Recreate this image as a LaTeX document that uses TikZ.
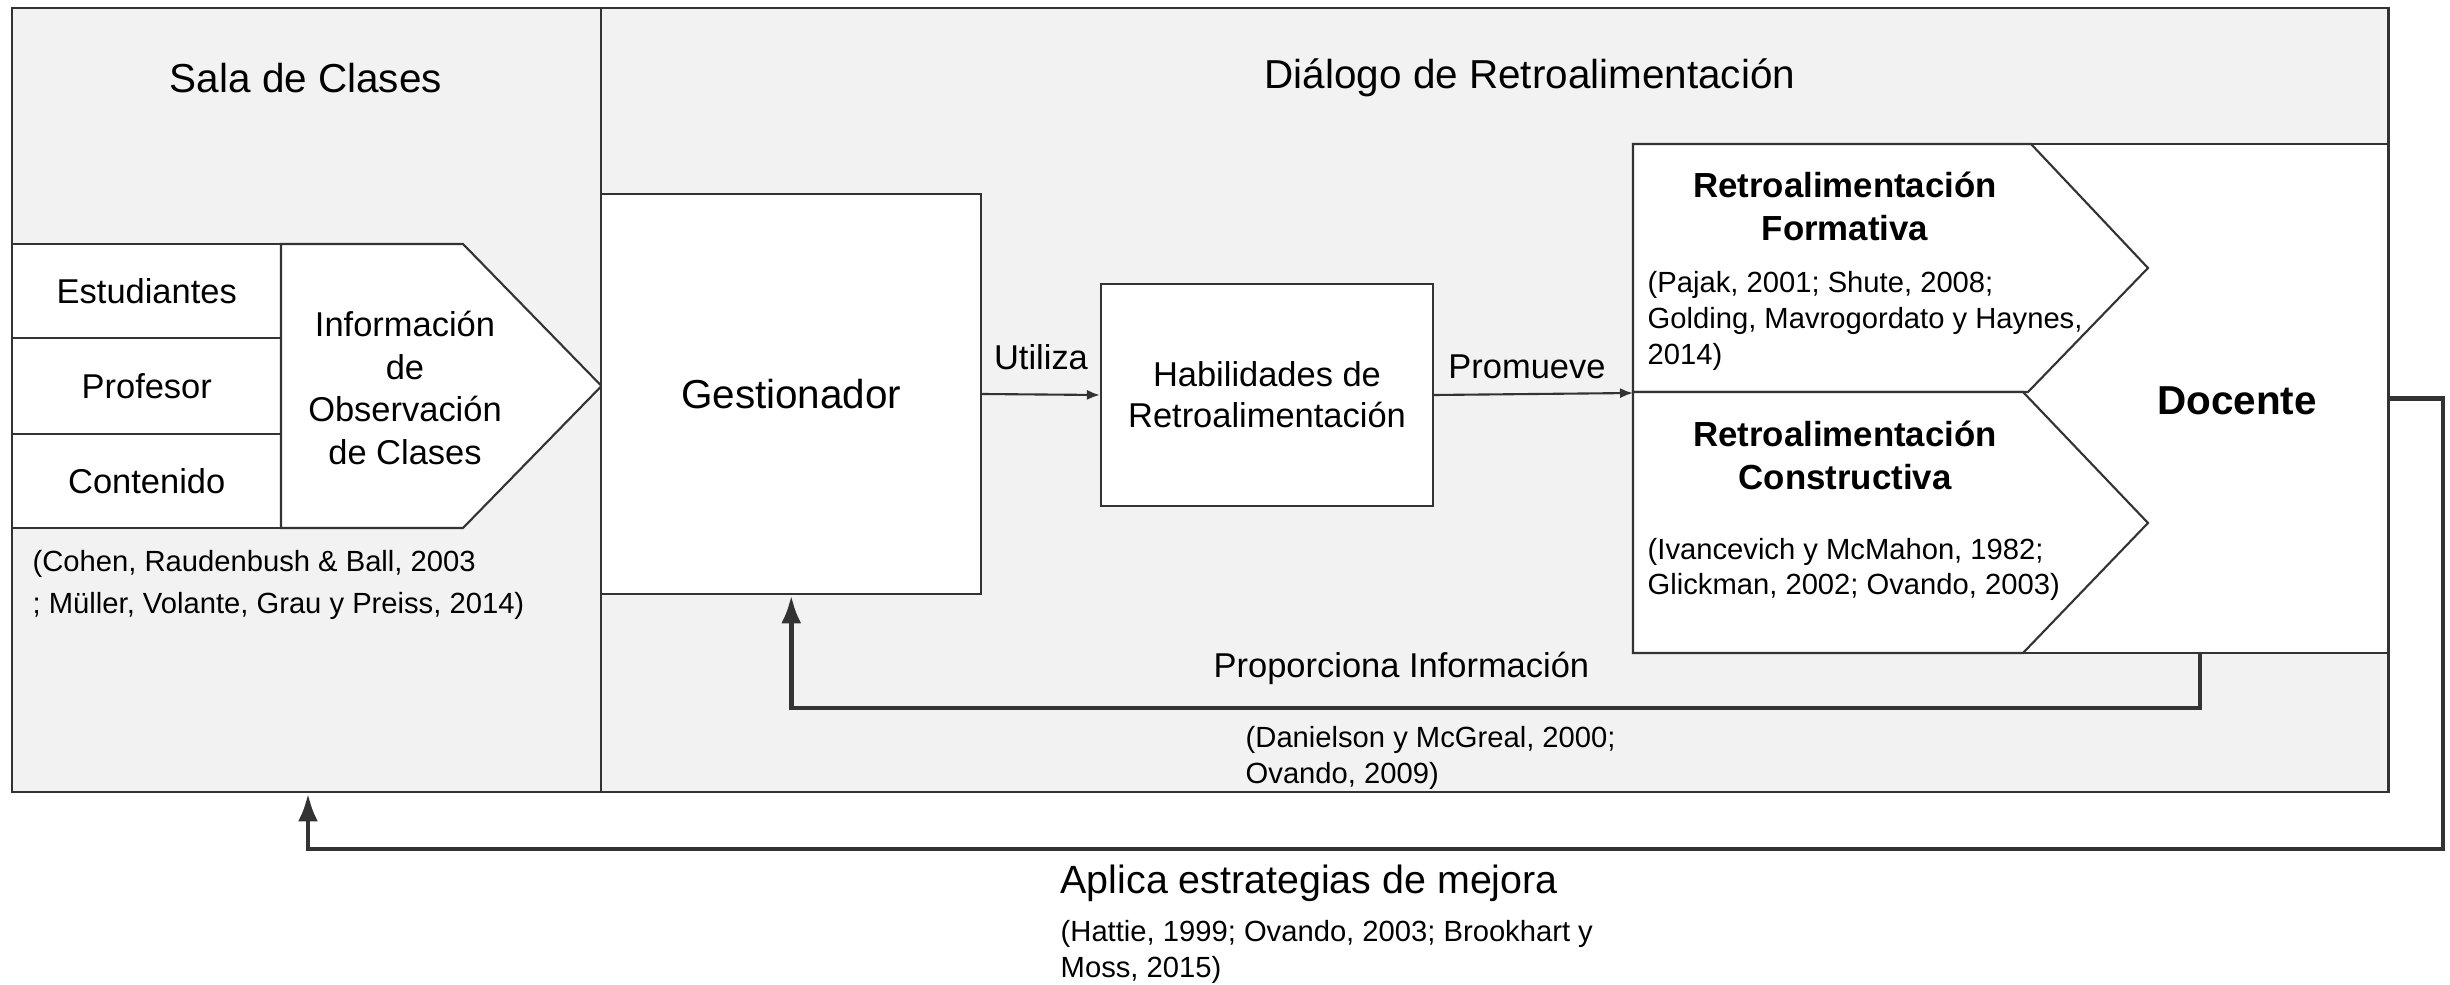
\documentclass[tikz,border=0pt]{standalone}
\usepackage{fontspec}
\setmainfont{Liberation Sans}
\usepackage{tikz}
\usetikzlibrary{arrows.meta}
\definecolor{fondo}{HTML}{F2F2F2}
\definecolor{borde}{HTML}{333333}

\begin{document}
\begin{tikzpicture}[
  x=0.01cm, y=-0.01cm,
  panel/.style={draw=borde, fill=fondo, line width=0.6pt, inner sep=0pt},
  caja/.style={draw=borde, fill=white, line width=0.6pt, inner sep=0pt},
  texto/.style={font=\fontsize{9.8}{12.1}\selectfont, align=center, inner sep=0pt},
  grande/.style={font=\fontsize{11.5}{14}\selectfont, inner sep=0pt},
  negrita/.style={font=\fontsize{9.9}{12.2}\selectfont\bfseries, align=center, inner sep=0pt},
  cita/.style={font=\fontsize{8.3}{10.2}\selectfont, align=left, anchor=west, inner sep=0pt},
  flecha/.style={draw=borde, line width=0.6pt, -{Latex[length=3.7pt,width=2.9pt]}},
  retorno/.style={draw=borde, line width=1.4pt, -{Latex[length=8pt,width=5.7pt]}}
]
\useasboundingbox (0,0) rectangle (2450,985);

\node[panel, minimum width=5.89cm, minimum height=7.84cm] (sala) at (307,400) {};
\node[panel, minimum width=17.865cm, minimum height=7.84cm] (dialogo) at (1494.75,400) {};
\node[grande] (tsala) at (306,78) {Sala de Clases};
\node[grande] (tdialogo) at (1530,78) {Diálogo de Retroalimentación};

\node[caja, texto, minimum width=2.685cm, minimum height=0.94cm] (est) at (146.75,291) {Estudiantes};
\node[caja, texto, minimum width=2.685cm, minimum height=0.96cm] (prof) at (146.75,386) {Profesor};
\node[caja, texto, minimum width=2.685cm, minimum height=0.94cm] (cont) at (146.75,481) {Contenido};
\draw[caja] (281,244) -- (463,244) -- (601.5,386) -- (463,528) -- (281,528) -- cycle;
\node[texto] (info) at (405,388) {Información\\de\\Observación\\de Clases};
\node[cita, font=\fontsize{8.3}{11.7}\selectfont] (csala) at (32,585)
  {(Cohen, Raudenbush \& Ball, 2003\\; Müller, Volante, Grau y Preiss, 2014)};

\node[caja, grande, minimum width=3.795cm, minimum height=4cm] (gest) at (791.25,394) {Gestionador};
\node[caja, texto, font=\fontsize{9.8}{11.7}\selectfont, minimum width=3.32cm, minimum height=2.22cm] (hab) at (1267,395)
  {Habilidades de\\Retroalimentación};

\node[caja, minimum width=7.55cm, minimum height=5.09cm] (docente) at (2010.5,398.5) {};
\draw[caja] (1633,144) -- (2031,144) -- (2148,268) -- (2028,392) -- (1633,392) -- cycle;
\draw[caja] (1633,392) -- (2023,392) -- (2148,523) -- (2023,653) -- (1633,653) -- cycle;
\node[grande, font=\fontsize{11.5}{14}\selectfont\bfseries] (tdocente) at (2237,401) {Docente};
\node[negrita] (tform) at (1845,206.5) {Retroalimentación\\Formativa};
\node[cita] (cform) at (1647,321) {(Pajak, 2001; Shute, 2008;\\Golding, Mavrogordato y Haynes,\\2014)};
\node[negrita] (tcons) at (1845,455) {Retroalimentación\\Constructiva};
\node[cita] (ccons) at (1647,569.5) {(Ivancevich y McMahon, 1982;\\Glickman, 2002; Ovando, 2003)};

\draw[flecha] (gest.east) -- (hab.west);
\node[texto] (utiliza) at (1041,357) {Utiliza};
\coordinate (union) at (1633,393);
\draw[flecha] (hab.east) -- (union);
\node[texto] (promueve) at (1527,367) {Promueve};

\coordinate (pbase) at (2200,708);
\draw[retorno] (docente.south -| pbase) -- (pbase) -| (gest.south);
\node[texto, anchor=west] (proporciona) at (1213,668) {Proporciona Información};
\node[cita] (cprop) at (1245,758) {(Danielson y McGreal, 2000;\\Ovando, 2009)};

\coordinate (abase) at (2443,849);
\coordinate (aesq) at (308,849);
\draw[retorno] (docente.east) -- (docente.east -| abase) -- (abase) -- (aesq) -- (aesq |- sala.south);
\node[font=\fontsize{11.2}{13}\selectfont, anchor=west, inner sep=0pt] (aplica) at (1060,883) {Aplica estrategias de mejora};
\node[cita, font=\fontsize{8.3}{10}\selectfont] (caplica) at (1060,952) {(Hattie, 1999; Ovando, 2003; Brookhart y\\Moss, 2015)};
\end{tikzpicture}
\end{document}
